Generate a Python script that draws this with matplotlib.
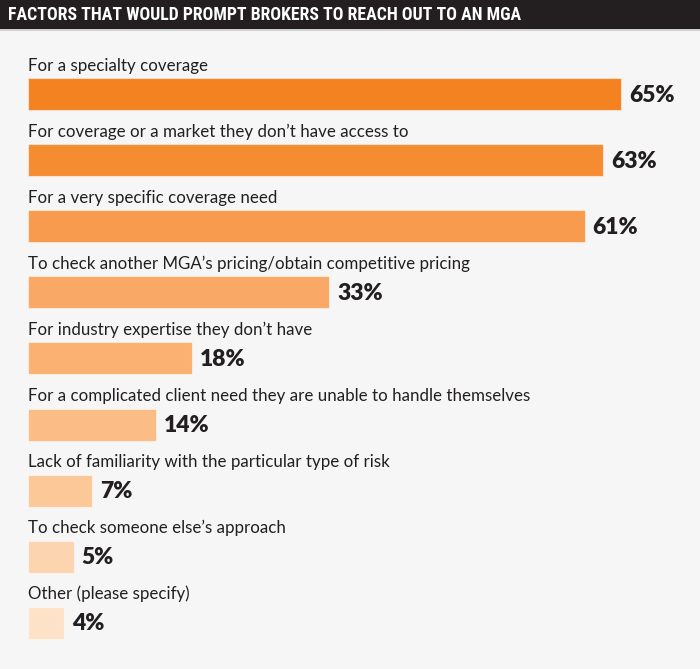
import matplotlib
matplotlib.use("Agg")
import matplotlib.pyplot as plt
from matplotlib.patches import Rectangle

categories = [
    "For a specialty coverage",
    "For coverage or a market they don\u2019t have access to",
    "For a very specific coverage need",
    "To check another MGA\u2019s pricing/obtain competitive pricing",
    "For industry expertise they don\u2019t have",
    "For a complicated client need they are unable to handle themselves",
    "Lack of familiarity with the particular type of risk",
    "To check someone else\u2019s approach",
    "Other (please specify)",
]
values = [65, 63, 61, 33, 18, 14, 7, 5, 4]
value_labels = ["65%", "63%", "61%", "33%", "18%", "14%", "7%", "5%", "4%"]
title = "FACTORS THAT WOULD PROMPT BROKERS TO REACH OUT TO AN MGA"

colors = ["#f58220", "#f68c32", "#f89b4e", "#f9a865", "#fab171",
          "#fbbc85", "#fcc898", "#fdd4b0", "#fee2c8"]

title_fonts = ["Roboto Condensed", "Archivo Narrow", "PT Sans Narrow",
               "Liberation Sans Narrow", "DejaVu Sans"]

W, H = 700, 669
fig = plt.figure(figsize=(W / 100, H / 100), dpi=100)
fig.patch.set_facecolor("#f6f6f6")

# title bar
fig.add_artist(Rectangle((0, 1 - 29 / H), 1, 29 / H, transform=fig.transFigure,
                         facecolor="#231f20", edgecolor="none"))
fig.add_artist(Rectangle((0, 1 - 31 / H), 1, 2 / H, transform=fig.transFigure,
                         facecolor="#d0d0d0", edgecolor="none"))
t = fig.text(8 / W, 1 - 15.5 / H, title, color="white", fontsize=16,
             fontweight="bold", family=title_fonts, va="center", ha="left")
fig.canvas.draw()
r = fig.canvas.get_renderer()
tw = t.get_window_extent(r).width
t.set_fontsize(16 * 515.0 / tw)

px_per_pct = (621 - 28) / 65.0
left = 28 / W
ax = fig.add_axes([left, 0, 1 - left, 1 - 31 / H])
ax.set_facecolor("none")
ax.set_xlim(0, (W - 28) / px_per_pct)
step = 66.1
top_px = 94 - 31
ax.set_ylim((H - 31 - top_px) / step, -top_px / step)
bh = 32 / step
ypos = list(range(len(values)))
ax.barh(ypos, values, height=bh, color=colors, edgecolor="#ffffff80",
        linewidth=0.8, align="center")
for i, (c, v, lab) in enumerate(zip(categories, values, value_labels)):
    ax.text(0, i - bh / 2 - 7.5 / step, c, fontsize=12.2, family="Lato",
            color="#231f20", va="baseline", ha="left")
    ax.text(v + 8 / px_per_pct, i + 1 / step, lab, fontsize=16.5, family="Lato",
            fontweight="heavy", color="#231f20", va="center", ha="left")
ax.axis("off")
fig.savefig("out.png", dpi=100, facecolor=fig.get_facecolor())
